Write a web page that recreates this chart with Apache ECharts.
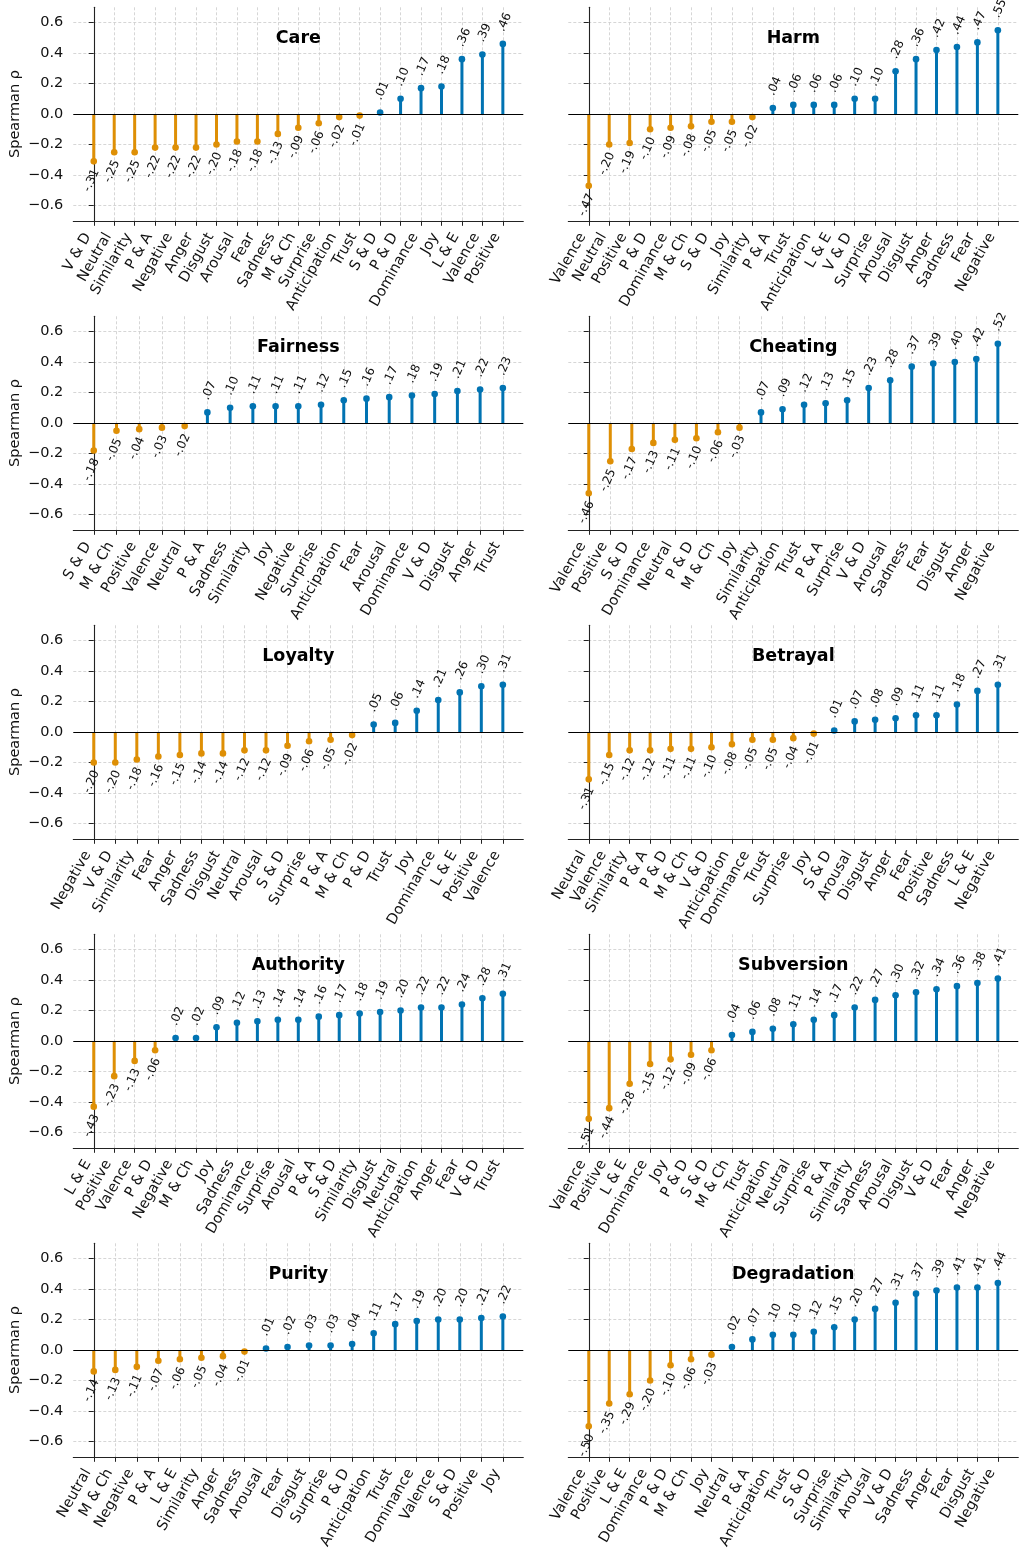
<!DOCTYPE html>
<html><head><meta charset="utf-8">
<script src="https://cdn.jsdelivr.net/npm/echarts@6/dist/echarts.min.js"></script>
<style>html,body{margin:0;padding:0;background:#fff}#c{width:1026px;height:1564px}</style>
</head><body><div id="c"></div>
<script>
// ---- data ----
const careCats = ['V & D','Neutral','Similarity','P & A','Negative','Anger','Disgust','Arousal','Fear','Sadness','M & Ch','Surprise','Anticipation','Trust','S & D','P & D','Dominance','Joy','L & E','Valence','Positive'];
const careVals = [-0.31,-0.25,-0.25,-0.22,-0.22,-0.22,-0.20,-0.18,-0.18,-0.13,-0.09,-0.06,-0.02,-0.01,0.01,0.10,0.17,0.18,0.36,0.39,0.46];

const harmCats = ['Valence','Neutral','Positive','P & D','Dominance','M & Ch','S & D','Joy','Similarity','P & A','Trust','Anticipation','L & E','V & D','Surprise','Arousal','Disgust','Anger','Sadness','Fear','Negative'];
const harmVals = [-0.47,-0.20,-0.19,-0.10,-0.09,-0.08,-0.05,-0.05,-0.02,0.04,0.06,0.06,0.06,0.10,0.10,0.28,0.36,0.42,0.44,0.47,0.55];

const fairnessCats = ['S & D','M & Ch','Positive','Valence','Neutral','P & A','Sadness','Similarity','Joy','Negative','Surprise','Anticipation','Fear','Arousal','Dominance','V & D','Disgust','Anger','Trust'];
const fairnessVals = [-0.18,-0.05,-0.04,-0.03,-0.02,0.07,0.10,0.11,0.11,0.11,0.12,0.15,0.16,0.17,0.18,0.19,0.21,0.22,0.23];

const cheatingCats = ['Valence','Positive','S & D','Dominance','Neutral','P & D','M & Ch','Joy','Similarity','Anticipation','Trust','P & A','Surprise','V & D','Arousal','Sadness','Fear','Disgust','Anger','Negative'];
const cheatingVals = [-0.46,-0.25,-0.17,-0.13,-0.11,-0.10,-0.06,-0.03,0.07,0.09,0.12,0.13,0.15,0.23,0.28,0.37,0.39,0.40,0.42,0.52];

const loyaltyCats = ['Negative','V & D','Similarity','Fear','Anger','Sadness','Disgust','Neutral','Arousal','S & D','Surprise','P & A','M & Ch','P & D','Trust','Joy','Dominance','L & E','Positive','Valence'];
const loyaltyVals = [-0.20,-0.20,-0.18,-0.16,-0.15,-0.14,-0.14,-0.12,-0.12,-0.09,-0.06,-0.05,-0.02,0.05,0.06,0.14,0.21,0.26,0.30,0.31];

const betrayalCats = ['Neutral','Valence','Similarity','P & A','P & D','M & Ch','V & D','Anticipation','Dominance','Trust','Surprise','Joy','S & D','Arousal','Disgust','Anger','Fear','Positive','Sadness','L & E','Negative'];
const betrayalVals = [-0.31,-0.15,-0.12,-0.12,-0.11,-0.11,-0.10,-0.08,-0.05,-0.05,-0.04,-0.01,0.01,0.07,0.08,0.09,0.11,0.11,0.18,0.27,0.31];

const authorityCats = ['L & E','Positive','Valence','P & D','Negative','M & Ch','Joy','Sadness','Dominance','Surprise','Arousal','P & A','S & D','Similarity','Disgust','Neutral','Anticipation','Anger','Fear','V & D','Trust'];
const authorityVals = [-0.43,-0.23,-0.13,-0.06,0.02,0.02,0.09,0.12,0.13,0.14,0.14,0.16,0.17,0.18,0.19,0.20,0.22,0.22,0.24,0.28,0.31];

const subversionCats = ['Valence','Positive','L & E','Dominance','Joy','P & D','S & D','M & Ch','Trust','Anticipation','Neutral','Surprise','P & A','Similarity','Sadness','Arousal','Disgust','V & D','Fear','Anger','Negative'];
const subversionVals = [-0.51,-0.44,-0.28,-0.15,-0.12,-0.09,-0.06,0.04,0.06,0.08,0.11,0.14,0.17,0.22,0.27,0.30,0.32,0.34,0.36,0.38,0.41];

const purityCats = ['Neutral','M & Ch','Negative','P & A','L & E','Similarity','Anger','Sadness','Arousal','Fear','Disgust','Surprise','P & D','Anticipation','Trust','Dominance','Valence','S & D','Positive','Joy'];
const purityVals = [-0.14,-0.13,-0.11,-0.07,-0.06,-0.05,-0.04,-0.01,0.01,0.02,0.03,0.03,0.04,0.11,0.17,0.19,0.20,0.20,0.21,0.22];

const degradationCats = ['Valence','Positive','L & E','Dominance','P & D','M & Ch','Joy','Neutral','P & A','Anticipation','Trust','S & D','Surprise','Similarity','Arousal','V & D','Sadness','Anger','Fear','Disgust','Negative'];
const degradationVals = [-0.50,-0.35,-0.29,-0.20,-0.10,-0.06,-0.03,0.02,0.07,0.10,0.10,0.12,0.15,0.20,0.27,0.31,0.37,0.39,0.41,0.41,0.44];

const panelTitles = ['Care','Harm','Fairness','Cheating','Loyalty','Betrayal','Authority','Subversion','Purity','Degradation'];
const yTickValues = [-0.6,-0.4,-0.2,0,0.2,0.4,0.6];
const yLabelText = 'Spearman ρ';

const panels = [
  [careCats, careVals], [harmCats, harmVals],
  [fairnessCats, fairnessVals], [cheatingCats, cheatingVals],
  [loyaltyCats, loyaltyVals], [betrayalCats, betrayalVals],
  [authorityCats, authorityVals], [subversionCats, subversionVals],
  [purityCats, purityVals], [degradationCats, degradationVals]
];

// ---- style / layout ----
const NEG = '#DE8F05', POS = '#0173B2';
const FONT = 'DejaVu Sans';
const colLeft = [73.3, 568.3], gridW = 450;
const rowTop0 = 7.3, rowStep = 309, gridH = 213.5;

function renderItem(params, api) {
  const i = api.value(0), v = api.value(1);
  const p0 = api.coord([i, 0]), p1 = api.coord([i, v]);
  const col = v < 0 ? NEG : POS;
  const pos = v >= 0;
  const txt = (v < 0 ? '-' : '') + Math.abs(v).toFixed(2).slice(1);
  return {
    type: 'group',
    children: [
      {type: 'line', shape: {x1: p0[0], y1: p0[1], x2: p1[0], y2: p1[1]}, style: {stroke: col, lineWidth: 3}},
      {type: 'circle', shape: {cx: p1[0], cy: p1[1], r: 3.3}, style: {fill: col}},
      {type: 'text', x: p1[0] + (pos ? -2 : 2.5), y: p1[1] + (pos ? -13 : 8.5), rotation: 66 * Math.PI / 180,
       style: {text: txt, align: pos ? 'left' : 'right', verticalAlign: 'middle', fontSize: 12, fontFamily: FONT, fill: '#111'}}
    ]
  };
}

const grid = [], xAxis = [], yAxis = [], series = [], title = [];
panels.forEach(([cats, vals], k) => {
  const col = k % 2, row = Math.floor(k / 2);
  const left = colLeft[col], top = rowTop0 + rowStep * row;
  const n = cats.length;
  const idx = cats.map((c, i) => i);
  grid.push({left: left, top: top, width: gridW, height: gridH});
  xAxis.push({
    type: 'value', gridIndex: k, min: -0.05 * (n - 1), max: 1.05 * (n - 1),
    position: 'bottom',
    axisLine: {show: true, onZero: false, lineStyle: {color: '#222', width: 1.1}},
    axisTick: {show: true, customValues: idx, length: 5, lineStyle: {color: '#222', width: 1}},
    axisLabel: {show: true, customValues: idx, rotate: 60, margin: 3, padding: [0, 12, 0, 0],
      fontSize: 14.5, fontFamily: FONT, color: '#111',
      formatter: (v) => cats[Math.round(v)] || ''},
    splitLine: {show: true, lineStyle: {color: '#cccccc', width: 0.8, type: [3, 2]}}
  });
  yAxis.push({
    type: 'value', gridIndex: k, min: -0.7, max: 0.7,
    name: col === 0 ? yLabelText : '', nameLocation: 'middle', nameGap: 51,
    nameTextStyle: {fontSize: 14.5, fontFamily: FONT, color: '#111'},
    axisLine: {show: true, lineStyle: {color: '#222', width: 1.1}},
    axisTick: {show: true, customValues: yTickValues, length: 5, lineStyle: {color: '#222', width: 1}},
    axisLabel: {show: col === 0, customValues: yTickValues, margin: 10, fontSize: 14.5, fontFamily: FONT, color: '#111',
      formatter: (v) => (v < -1e-9 ? '\u2212' : '') + Math.abs(v).toFixed(1)},
    splitLine: {show: true, lineStyle: {color: '#cccccc', width: 0.8, type: [3, 2]}}
  });
  title.push({
    text: panelTitles[k], left: left + gridW / 2, top: top + 22, textAlign: 'center', padding: 0,
    textStyle: {fontSize: 17.5, fontWeight: 'bold', fontFamily: FONT, color: '#000'}
  });
  series.push({
    type: 'custom', xAxisIndex: k, yAxisIndex: k, renderItem: renderItem, clip: false,
    data: vals.map((v, i) => [i, v]),
    markLine: {silent: true, symbol: 'none', label: {show: false}, animation: false,
      lineStyle: {color: '#000', width: 1, type: 'solid'}, data: [{yAxis: 0}]},
    animation: false
  });
});

const chart = echarts.init(document.getElementById('c'), null, {renderer: 'canvas'});
chart.setOption({backgroundColor: '#fff', animation: false, grid, xAxis, yAxis, series, title});
</script>
</body></html>
